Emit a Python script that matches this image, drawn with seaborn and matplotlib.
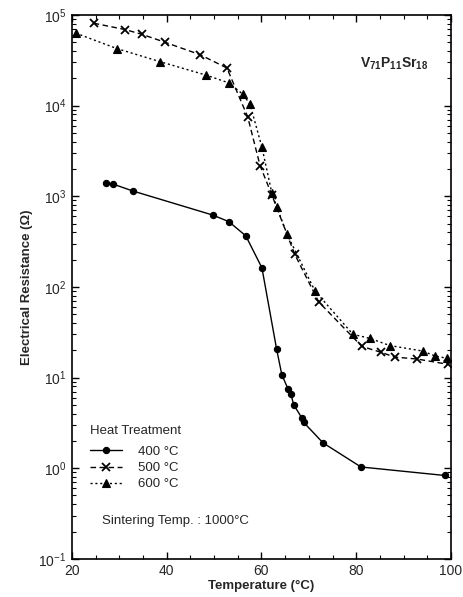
import numpy as np
import pandas as pd
import matplotlib
matplotlib.use("Agg")
import matplotlib.pyplot as plt
from matplotlib.ticker import MultipleLocator, LogLocator, NullFormatter
import seaborn as sns

# Resistance vs temperature for three heat-treatment temperatures
t_400 = [27.2, 28.6, 32.9, 49.7, 53.1, 56.7, 60.1, 63.2, 64.3, 65.6, 66.2, 66.8, 68.5, 68.9, 73.0, 81.0, 98.7]
r_400 = [1400, 1365, 1140, 620, 525, 365, 162, 20.5, 10.7, 7.5, 6.6, 5.0, 3.6, 3.2, 1.9, 1.03, 0.83]

t_500 = [24.6, 31.2, 34.8, 39.6, 47.0, 52.7, 57.1, 59.7, 62.2, 67.0, 72.1, 81.2, 85.2, 88.1, 92.8, 99.3]
r_500 = [81000, 69000, 61000, 50000, 36500, 26000, 7500, 2180, 1030, 230, 68, 22, 19, 16.8, 16, 14]

t_600 = [20.8, 29.5, 38.6, 48.3, 53.1, 56.1, 57.6, 60.1, 62.2, 63.2, 65.4, 71.3, 79.3, 82.9, 87.1, 94.0, 96.6, 99.1]
r_600 = [63000, 42500, 30500, 21700, 17800, 13300, 10300, 3470, 1080, 770, 380, 90, 30, 27, 22.5, 19.6, 17.3, 16.3]

series_labels = ["400 \u00b0C", "500 \u00b0C", "600 \u00b0C"]

frames = []
for lab, t, r in zip(series_labels, [t_400, t_500, t_600], [r_400, r_500, r_600]):
    frames.append(pd.DataFrame({"T": t, "R": r, "treat": lab}))
df = pd.concat(frames, ignore_index=True)

sns.set_theme(style="ticks")
plt.rcParams["font.family"] = ["Liberation Sans", "DejaVu Sans"]
plt.rcParams["mathtext.fontset"] = "custom"
plt.rcParams["mathtext.rm"] = "Liberation Sans"
plt.rcParams["mathtext.bf"] = "Liberation Sans:bold"

fig = plt.figure(figsize=(4.64, 5.97), dpi=100)
ax = fig.add_axes([0.155, 0.064, 0.817, 0.911])

styles = {
    "400 \u00b0C": dict(linestyle="-", marker="o", markersize=4.5, mfc="black", mec="black", mew=0.8),
    "500 \u00b0C": dict(linestyle=(0, (4, 2.5)), marker="x", markersize=5.5, mfc="black", mec="black", mew=1.3),
    "600 \u00b0C": dict(linestyle=(0, (1.5, 2)), marker="^", markersize=5.5, mfc="black", mec="black", mew=0.8),
}

for lab in series_labels:
    sub = df[df["treat"] == lab]
    sns.lineplot(data=sub, x="T", y="R", ax=ax, color="black", linewidth=1.0,
                 estimator=None, sort=False, label=lab, **styles[lab])

ax.set_yscale("log")
ax.set_xlim(20, 100)
ax.set_ylim(1e-1, 1e5)

ax.xaxis.set_major_locator(MultipleLocator(20))
ax.xaxis.set_minor_locator(MultipleLocator(5))
ax.yaxis.set_major_locator(LogLocator(base=10, numticks=10))
ax.yaxis.set_minor_locator(LogLocator(base=10, subs=np.arange(2, 10), numticks=20))
ax.yaxis.set_minor_formatter(NullFormatter())

ax.tick_params(which="both", direction="in", top=True, right=True, color="black")
ax.tick_params(which="major", length=5, width=1.0, labelsize=10, pad=4)
ax.tick_params(which="minor", length=3, width=0.8)
for sp in ax.spines.values():
    sp.set_linewidth(1.2)
    sp.set_color("black")

ax.set_xlabel("Temperature (\u00b0C)", fontsize=9.5, fontweight="bold", labelpad=1)
ax.set_ylabel("Electrical Resistance (\u03a9)", fontsize=9.5, fontweight="bold", labelpad=4)

leg = ax.legend(title="Heat Treatment", loc="upper left", bbox_to_anchor=(0.035, 0.255),
                frameon=False, fontsize=9.5, title_fontsize=9.5, handlelength=2.4,
                handletextpad=1.2, labelspacing=0.3, borderaxespad=0)
leg._legend_box.align = "left"
leg._legend_box.sep = 6

ax.text(0.08, 0.07, "Sintering Temp. : 1000\u00b0C", transform=ax.transAxes,
        fontsize=9.5, ha="left", va="center")
ax.text(0.76, 0.91, r"$\mathbf{V}_{\mathbf{71}}\mathbf{P}_{\mathbf{11}}\mathbf{Sr}_{\mathbf{18}}$",
        transform=ax.transAxes, fontsize=10, ha="left", va="center")

fig.savefig("out.png", dpi=100, facecolor="white")
